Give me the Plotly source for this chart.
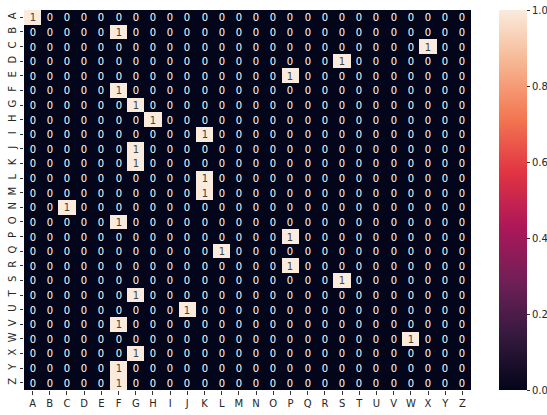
import plotly.graph_objects as go

labels = list("ABCDEFGHIJKLMNOPQRSTUVWXYZ")
# predicted column for each true row label (one count per row)
predicted = ["A", "F", "X", "S", "P", "F", "G", "H", "K", "G", "G", "K", "K",
             "C", "F", "P", "L", "P", "S", "G", "J", "F", "W", "G", "F", "F"]

z = [[1 if labels[j] == predicted[i] else 0 for j in range(26)] for i in range(26)]

rocket = [[0.0, "#03051a"], [0.143, "#35193e"], [0.286, "#701f57"], [0.429, "#ad1759"],
          [0.571, "#e13342"], [0.714, "#f37651"], [0.857, "#f6b48f"], [1.0, "#faebdd"]]

fig = go.Figure(go.Heatmap(
    z=z, x=labels, y=labels, colorscale=rocket, zmin=0, zmax=1,
    texttemplate="%{z}", textfont=dict(family="DejaVu Sans", size=10),
    xgap=0, ygap=0,
    colorbar=dict(x=(499 - 24) / 447, xanchor="left", xpad=0, ypad=0, thickness=28,
                  len=1, lenmode="fraction",
                  y=0.5, yanchor="middle", outlinewidth=0, ticks="outside", ticklen=3.5,
                  tickcolor="#333", tickvals=[0, 0.2, 0.4, 0.6, 0.8, 1.0],
                  ticktext=["0.0", "0.2", "0.4", "0.6", "0.8", "1.0"],
                  tickfont=dict(family="DejaVu Sans", size=10, color="#262626")),
))
fig.update_layout(
    width=547, height=415, margin=dict(l=24, r=76, t=10, b=25, autoexpand=False),
    paper_bgcolor="white", plot_bgcolor="white",
    font=dict(family="DejaVu Sans", size=10, color="#262626"),
    xaxis=dict(showgrid=False, zeroline=False, ticks="outside", ticklen=3.5, tickcolor="#333",
               tickfont=dict(size=10), tickangle=0, automargin=False),
    yaxis=dict(showgrid=False, zeroline=False, autorange="reversed", ticks="outside", ticklen=3.5,
               tickcolor="#333", tickfont=dict(size=10), tickangle=-90, automargin=False),
)
fig.write_html("out.html")
